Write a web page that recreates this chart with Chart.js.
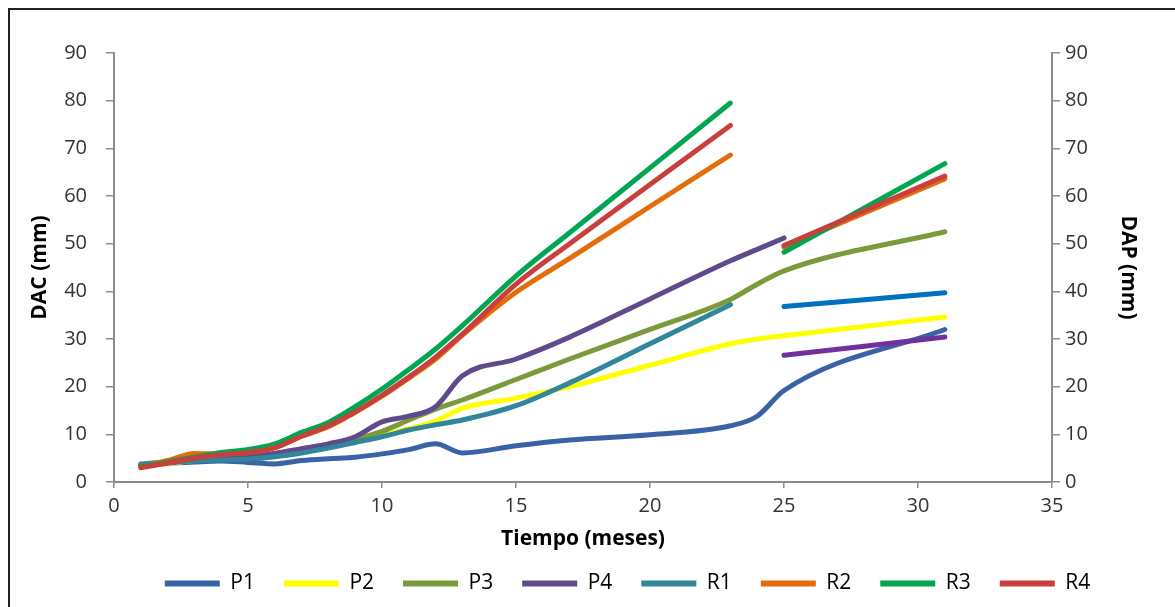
<!DOCTYPE html>
<html>
<head>
<meta charset="utf-8">
<script src="https://cdn.jsdelivr.net/npm/chart.js@4.4.0/dist/chart.umd.min.js"></script>
<style>
  body { margin: 0; background: #fff; }
  #caja { position: relative; width: 1175px; height: 607px; overflow: hidden; background: #fff; }
  #grafico { position: absolute; left: 0; top: 0; }
  #marco { position: absolute; left: 8px; top: 8px; width: 1300px; height: 700px; border-left: 2px solid #222; border-top: 2px solid #222; }
</style>
</head>
<body>
<div id="caja">
  <canvas id="grafico" width="1175" height="607"></canvas>
  <div id="marco"></div>
</div>
<script>
// meses de medicion
const meses = [1, 2, 3, 4, 5, 6, 7, 8, 9, 10, 11, 12, 13, 15, 17, 20, 23, 24, 25, 31];

// DAC (mm)
const p1 = [3.4, 3.9, 4.2, 4.4, 4.1, 3.8, 4.5, 4.9, 5.2, 5.9, 6.8, 8.0, 6.1, 7.6, 8.8, 9.9, 11.8, 13.8, 19.2, 32.0];
const p2 = [3.3, 3.9, 4.5, 4.9, 5.1, 5.4, 6.3, 7.3, 8.5, 9.8, 11.2, 12.8, 15.5, 17.6, 20.0, 24.5, 29.0, 30.0, 30.7, 34.6];
const p3 = [3.4, 4.0, 4.7, 5.1, 5.4, 5.9, 6.9, 7.9, 9.0, 10.6, 13.0, 15.3, 17.2, 21.5, 25.8, 32.0, 38.3, 41.5, 44.3, 52.5];
const p4 = [3.4, 4.0, 4.6, 5.0, 5.3, 6.0, 7.0, 8.0, 9.5, 12.6, 13.8, 15.8, 22.3, 25.8, 30.4, 38.4, 46.4, 48.8, 51.2, null];
const r1 = [3.8, 4.2, 4.4, 4.6, 4.8, 5.3, 6.1, 7.1, 8.3, 9.5, 10.9, 12.0, 13.0, 16.0, 20.8, 29.0, 37.2, null, null, null];
const r2 = [3.2, 4.5, 6.0, 5.9, 6.2, 7.2, 9.6, 11.6, 14.6, 18.0, 21.8, 25.8, 30.8, 39.8, 46.9, 57.8, 68.6, null, null, null];
const r3 = [3.2, 4.2, 5.2, 6.2, 6.8, 8.0, 10.4, 12.5, 15.8, 19.5, 23.6, 27.9, 32.8, 43.2, 52.3, 65.9, 79.5, null, null, null];
const r4 = [3.0, 4.0, 5.0, 5.7, 6.2, 7.2, 9.6, 11.8, 14.7, 18.2, 22.0, 26.2, 31.0, 41.5, 50.0, 62.4, 74.8, null, null, null];

// DAP (mm), meses 25 y 31
const mesesDap = [25, 31];
const r1Dap = [36.8, 39.7];
const r2Dap = [49.3, 63.6];
const r3Dap = [48.2, 66.8];
const r4Dap = [49.6, 64.2];
const p4Dap = [26.6, 30.4];

const nombres = ["P1", "P2", "P3", "P4", "R1", "R2", "R3", "R4"];
const ticksY = { min: 0, max: 90, paso: 10 };
const ticksX = { min: 0, max: 35, paso: 5 };

function puntos(xs, ys) {
  return xs.map((x, i) => ({ x: x, y: ys[i] }));
}

function serie(label, xs, ys, color, eje, idx) {
  return {
    label: label,
    data: puntos(xs, ys),
    borderColor: color,
    backgroundColor: color,
    borderWidth: 5,
    pointRadius: 0,
    fill: false,
    cubicInterpolationMode: "monotone",
    spanGaps: false,
    borderCapStyle: "round",
    yAxisID: eje,
    order: 100 - idx,
  };
}

const datasets = [
  serie(nombres[0], meses, p1, "#3A62A6", "y", 0),
  serie(nombres[1], meses, p2, "#FFFF00", "y", 1),
  serie(nombres[2], meses, p3, "#7A9A3C", "y", 2),
  serie(nombres[3], meses, p4, "#5F4B8B", "y", 3),
  serie(nombres[4], meses, r1, "#31869B", "y", 4),
  serie(nombres[5], meses, r2, "#E46C0A", "y", 5),
  serie(nombres[6], meses, r3, "#00A650", "y", 6),
  serie(nombres[7], meses, r4, "#C8403C", "y", 7),
  serie("R1 DAP", mesesDap, r1Dap, "#0070C0", "y1", 8),
  serie("R2 DAP", mesesDap, r2Dap, "#E46C0A", "y1", 9),
  serie("R3 DAP", mesesDap, r3Dap, "#00A650", "y1", 10),
  serie("R4 DAP", mesesDap, r4Dap, "#C8403C", "y1", 11),
  serie("P4 DAP", mesesDap, p4Dap, "#7030A0", "y1", 12),
];

// mover la leyenda a su lugar
const moverLeyenda = {
  id: "moverLeyenda",
  afterLayout(chart) {
    const l = chart.legend;
    l.left += 40;
    l.right += 40;
    l.top -= 8;
    l.bottom -= 8;
  },
};

const fuenteTick = { family: "'Open Sans', sans-serif", size: 20 };
const fuenteTitulo = { family: "'Open Sans', sans-serif", size: 21, weight: "bold" };
const gris = "#8c8c8c";

function ejeY(posicion, titulo, ancho, pad, padTitulo) {
  return {
    type: "linear",
    position: posicion,
    min: ticksY.min,
    max: ticksY.max,
    ticks: { stepSize: ticksY.paso, font: fuenteTick, color: "#333", padding: pad },
    grid: { display: true, drawOnChartArea: false, drawTicks: true, tickLength: 8, color: gris, lineWidth: 1.5 },
    border: { display: true, color: gris, width: 2 },
    title: { display: true, text: titulo, font: fuenteTitulo, color: "#000", padding: { top: padTitulo, bottom: 0 } },
    afterFit: (s) => { s.width = ancho; },
  };
}

new Chart(document.getElementById("grafico"), {
  type: "line",
  data: { datasets: datasets },
  options: {
    responsive: false,
    animation: false,
    devicePixelRatio: 1,
    layout: { padding: { top: 53, left: 0, right: 0, bottom: 0 } },
    plugins: {
      tooltip: { enabled: false },
      legend: {
        display: true,
        position: "bottom",
        maxHeight: 55,
        labels: {
          font: { family: "'Open Sans', sans-serif", size: 21 },
          color: "#000",
          boxWidth: 55,
          boxHeight: 6,
          padding: 29,
          useBorderRadius: true,
          borderRadius: 3,
          generateLabels: (chart) =>
            chart.data.datasets.slice(0, nombres.length).map((ds, i) => ({
              text: ds.label,
              fillStyle: ds.borderColor,
              strokeStyle: ds.borderColor,
              lineWidth: 0,
              hidden: false,
              datasetIndex: i,
              fontColor: "#000",
            })),
        },
      },
    },
    scales: {
      x: {
        type: "linear",
        position: "bottom",
        min: ticksX.min,
        max: ticksX.max,
        ticks: { stepSize: ticksX.paso, font: fuenteTick, color: "#333", padding: 6 },
        grid: { display: true, drawOnChartArea: false, drawTicks: true, tickLength: 6, color: gris, lineWidth: 1.5 },
        border: { display: true, color: gris, width: 2 },
        title: { display: true, text: "Tiempo (meses)", font: fuenteTitulo, color: "#000", padding: { top: 0, bottom: 0 } },
        afterFit: (s) => { s.height = 70; },
      },
      y: ejeY("left", "DAC (mm)", 114, 19, 27),
      y1: ejeY("right", "DAP (mm)", 123, 5, 34),
    },
  },
  plugins: [moverLeyenda],
});
</script>
</body>
</html>
